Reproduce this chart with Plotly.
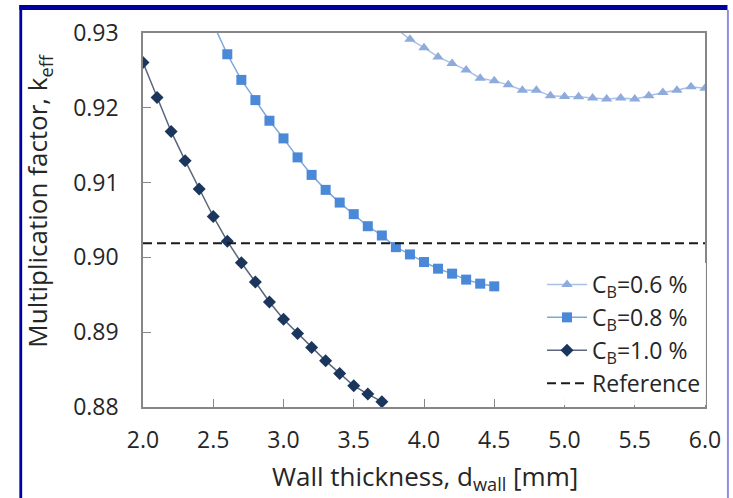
import plotly.graph_objects as go

# ---- data ----
x_cb06 = [3.9, 4.0, 4.1, 4.2, 4.3, 4.4, 4.5, 4.6, 4.7, 4.8, 4.9, 5.0, 5.1, 5.2, 5.3, 5.4, 5.5, 5.6, 5.7, 5.8, 5.9, 6.0]
k_cb06 = [0.92916, 0.92804, 0.92680, 0.92591, 0.92507, 0.92396, 0.92360, 0.92307, 0.92236, 0.92236, 0.92160,
          0.92150, 0.92147, 0.92130, 0.92116, 0.92130, 0.92116, 0.92160, 0.92204, 0.92236, 0.92280, 0.92263]

x_cb08 = [2.6, 2.7, 2.8, 2.9, 3.0, 3.1, 3.2, 3.3, 3.4, 3.5, 3.6, 3.7, 3.8, 3.9, 4.0, 4.1, 4.2, 4.3, 4.4, 4.5]
k_cb08 = [0.92716, 0.92373, 0.92103, 0.91827, 0.91591, 0.91337, 0.91103, 0.90903, 0.90733, 0.90578,
          0.90417, 0.90293, 0.90137, 0.90040, 0.89938, 0.89849, 0.89783, 0.89703, 0.89649, 0.89613]

x_cb10 = [2.0, 2.1, 2.2, 2.3, 2.4, 2.5, 2.6, 2.7, 2.8, 2.9, 3.0, 3.1, 3.2, 3.3, 3.4, 3.5, 3.6, 3.7]
k_cb10 = [0.92604, 0.92138, 0.91684, 0.91293, 0.90916, 0.90547, 0.90217, 0.89929, 0.89671, 0.89404,
          0.89173, 0.88983, 0.88796, 0.88617, 0.88449, 0.88284, 0.88173, 0.88071]

# points above the visible range (only their connecting lines show)
x_cb06_pre = [3.8]
k_cb06_pre = [0.93060]
x_cb08_pre = [2.5]
k_cb08_pre = [0.93120]

ref_x = [2.0, 6.0]
ref_k = 0.9019

x_ticks = [2.0, 2.5, 3.0, 3.5, 4.0, 4.5, 5.0, 5.5, 6.0]
x_tick_labels = ["2.0", "2.5", "3.0", "3.5", "4.0", "4.5", "5.0", "5.5", "6.0"]
y_ticks = [0.88, 0.89, 0.90, 0.91, 0.92, 0.93]
y_tick_labels = ["0.88", "0.89", "0.90", "0.91", "0.92", "0.93"]

names = ["C<sub>B</sub>=0.6 %", "C<sub>B</sub>=0.8 %", "C<sub>B</sub>=1.0 %", "Reference"]
x_title = "Wall thickness, d<sub>wall</sub> [mm]"
y_title = "Multiplication factor, k<sub>eff</sub>"

FONT = "Open Sans"
TXT = "#262626"

fig = go.Figure()

fig.add_trace(go.Scatter(x=x_cb06_pre + x_cb06[:1], y=k_cb06_pre + k_cb06[:1], mode="lines",
                         line=dict(color="#a9c0e8", width=1.5), showlegend=False, hoverinfo="skip"))
fig.add_trace(go.Scatter(x=x_cb08_pre + x_cb08[:1], y=k_cb08_pre + k_cb08[:1], mode="lines",
                         line=dict(color="#7fa6df", width=1.5), showlegend=False, hoverinfo="skip"))

fig.add_trace(go.Scatter(x=x_cb06, y=k_cb06, mode="lines+markers", name=names[0],
                         line=dict(color="#a9c0e8", width=1.5),
                         marker=dict(symbol="triangle-up", size=10, color="#8eabdc")))
fig.add_trace(go.Scatter(x=x_cb08, y=k_cb08, mode="lines+markers", name=names[1],
                         line=dict(color="#7fa6df", width=1.5),
                         marker=dict(symbol="square", size=10, color="#4a88d8")))
fig.add_trace(go.Scatter(x=x_cb10, y=k_cb10, mode="lines+markers", name=names[2],
                         line=dict(color="#5b667c", width=1.5),
                         marker=dict(symbol="diamond", size=10, color="#1b365d")))
fig.add_trace(go.Scatter(x=ref_x, y=[ref_k, ref_k], mode="lines", name=names[3],
                         line=dict(color="#1a1a1a", width=2, dash="9px,5px")))

axis_common = dict(
    showline=True, linecolor="#868686", linewidth=1.5, mirror=True,
    ticks="inside", ticklen=8, tickwidth=1.2, tickcolor="#868686",
    showgrid=False, zeroline=False,
    tickfont=dict(family=FONT, size=23, color=TXT),
)

fig.update_layout(
    width=733, height=498,
    margin=dict(l=143, r=25, t=33, b=91),
    paper_bgcolor="white", plot_bgcolor="white",
    font=dict(family=FONT, color=TXT),
    xaxis=dict(range=[2.0, 6.0], tickvals=x_ticks, ticktext=x_tick_labels,
               ticklabelstandoff=12, **axis_common),
    yaxis=dict(range=[0.88, 0.93], tickvals=y_ticks, ticktext=y_tick_labels,
               ticklabelstandoff=18, **axis_common),
    legend=dict(x=0.71, y=0.385, xanchor="left", yanchor="top", bgcolor="rgba(255,255,255,0.9)",
                font=dict(family=FONT, size=23, color=TXT), itemwidth=40, tracegroupgap=0),
    annotations=[
        dict(text=x_title, xref="paper", yref="paper", x=0.502, y=-0.188,
             xanchor="center", yanchor="middle", showarrow=False,
             font=dict(family=FONT, size=26, color=TXT)),
        dict(text=y_title, xref="paper", yref="paper", x=-0.186, y=0.553,
             xanchor="center", yanchor="middle", showarrow=False, textangle=-90,
             font=dict(family=FONT, size=26, color=TXT)),
    ],
    shapes=[
        # outer frame: dark left and top edges, light right edge
        dict(type="rect", xref="paper", yref="paper", x0=-0.2200, x1=-0.2150, y0=-0.25, y1=1.075,
             line=dict(width=0), fillcolor="#0000a0", layer="below"),
        dict(type="rect", xref="paper", yref="paper", x0=-0.2200, x1=1.040, y0=1.0615, y1=1.075,
             line=dict(width=0), fillcolor="#0000a0", layer="below"),
        dict(type="rect", xref="paper", yref="paper", x0=1.039, x1=1.0425, y0=-0.25, y1=1.0615,
             line=dict(width=0), fillcolor="#8c8ce0", layer="below"),
    ],
)

fig.write_html("out.html", config={"displayModeBar": False},
               post_script="document.body.style.margin='0';")
